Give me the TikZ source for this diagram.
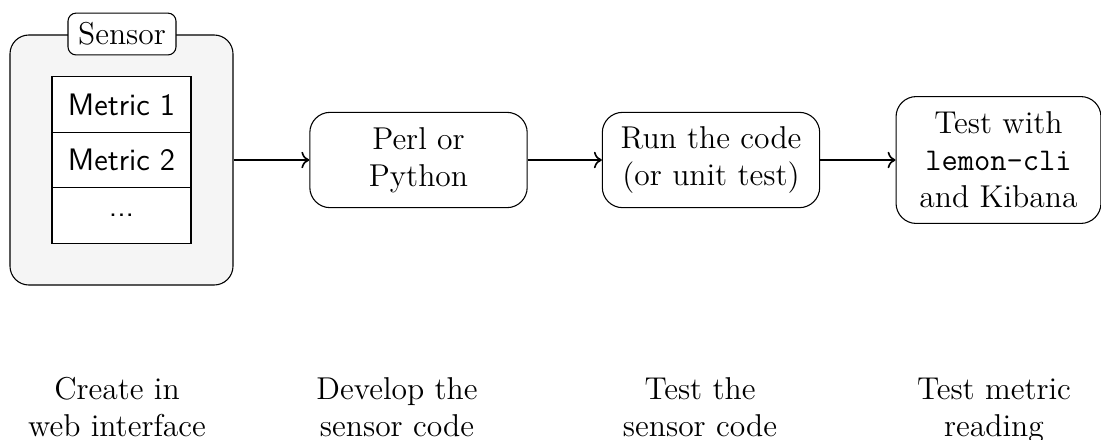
\documentclass[tikz,border=0pt]{standalone}
\usetikzlibrary{arrows.meta}
\begin{document}
\begin{tikzpicture}[x=0.37037pt, y=-0.37037pt,
  every node/.style={font=\fontsize{11.7}{13.7}\selectfont},
  stage/.style={draw, rounded corners=7.5pt, align=center, inner sep=0pt,
    minimum width=80.5pt, minimum height=35.3pt},
  cell/.style={draw, fill=white, inner sep=0pt,
    font=\sffamily\fontsize{11.5}{13.7}\selectfont,
    minimum width=51.5pt, minimum height=20.55pt},
  flow/.style={->, semithick},
  caption/.style={align=center, anchor=base}]
\useasboundingbox (0,0) rectangle (1101,439);

% sensor container with its metrics
\node[draw, fill=black!4, rounded corners=7pt, inner sep=0pt,
  minimum width=82.6pt, minimum height=92.6pt] (sensor) at (121.5,160) {};
\node[draw, fill=white, rounded corners=3pt, inner sep=0pt,
  minimum width=40pt, minimum height=15.5pt] (title) at (122,34) {Sensor};
\node[cell] (m1) at (121.5,104.5) {Metric 1};
\node[cell] (m2) at (121.5,160) {Metric 2};
\node[cell] (m3) at (121.5,215.5) {...};

% processing stages
\node[stage] (perl) at (418.5,160) {Perl or\\Python};
\node[stage] (run) at (711,160) {Run the code\\(or unit test)};
\node[stage, minimum width=75.9pt, minimum height=47pt] (kib) at (998.5,160)
  {Test with\\\texttt{lemon-cli}\\and Kibana};

\draw[flow] (sensor) -- (perl);
\draw[flow] (perl) -- (run);
\draw[flow] (run) -- (kib);

% step captions (anchored on the baseline of the last line)
\node[caption] (c1) at (117,436) {Create in\\web interface};
\node[caption] (c2) at (397,436) {Develop the\\sensor code};
\node[caption] (c3) at (700,436) {Test the\\sensor code};
\node[caption] (c4) at (994,436) {Test metric\\reading};
\end{tikzpicture}
\end{document}
